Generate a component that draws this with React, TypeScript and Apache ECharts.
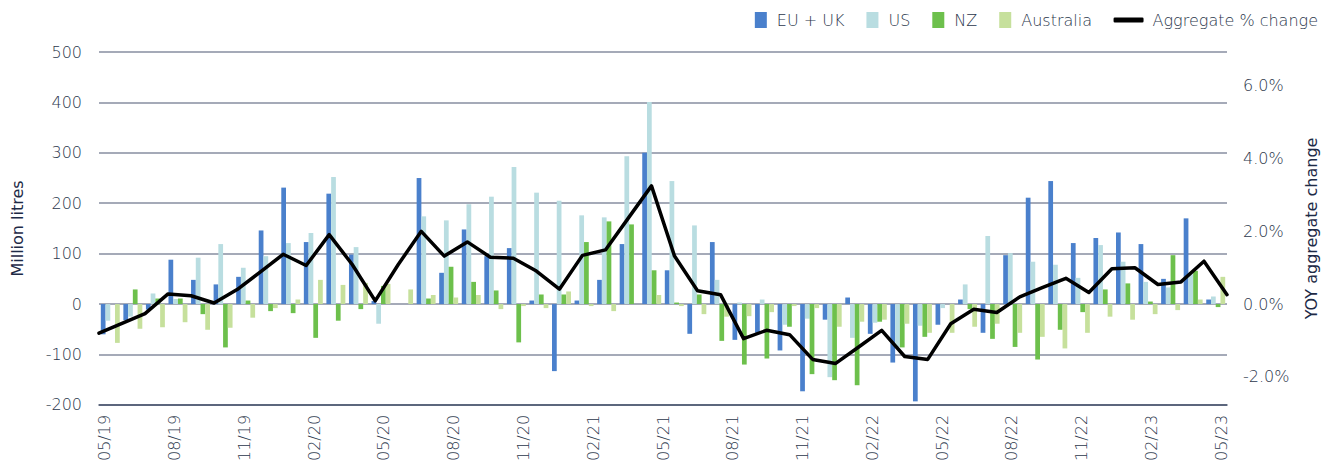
import React, { useEffect, useRef } from "react";
import * as echarts from "echarts";

const months = [
  "05/19", "06/19", "07/19", "08/19", "09/19", "10/19", "11/19", "12/19",
  "01/20", "02/20", "03/20", "04/20", "05/20", "06/20", "07/20", "08/20", "09/20", "10/20", "11/20", "12/20",
  "01/21", "02/21", "03/21", "04/21", "05/21", "06/21", "07/21", "08/21", "09/21", "10/21", "11/21", "12/21",
  "01/22", "02/22", "03/22", "04/22", "05/22", "06/22", "07/22", "08/22", "09/22", "10/22", "11/22", "12/22",
  "01/23", "02/23", "03/23", "04/23", "05/23", "06/23",
];

const tickLabels = [
  "05/19", "08/19", "11/19", "02/20", "05/20", "08/20", "11/20", "02/21", "05/21",
  "08/21", "11/21", "02/22", "05/22", "08/22", "11/22", "02/23", "05/23",
];

const pctTicks = [-2, 0, 2, 4, 6];

const euUk = [
  -60, -32, -11, 88, 48, 39, 54, 146, 231, 123, 219, 98, 6, 0, 250, 62, 148, 95, 111, 7,
  -133, 7, 48, 119, 300, 67, -59, 123, -71, -57, -92, -173, -31, 13, -59, -116, -193, -41, 9, -57,
  97, 211, 244, 121, 131, 142, 119, 50, 170, 9,
];

const us = [
  -33, -25, 21, 10, 92, 119, 72, 95, 121, 141, 252, 113, -39, 0, 174, 166, 198, 213, 272, 221,
  205, 176, 172, 293, 401, 244, 156, 48, 3, 9, -41, -29, -145, -67, -37, -85, -43, -8, 39, 135,
  101, 84, 78, 52, 117, 84, 44, 33, 59, 15,
];

const nz = [
  0, 29, 11, 11, -20, -86, 7, -14, -18, -67, -33, -10, 36, 0, 11, 74, 44, 27, -76, 19,
  19, 123, 164, 158, 67, 3, 19, -73, -120, -108, -45, -139, -151, -161, -35, -86, -65, 0, -10, -69,
  -85, -110, -51, -16, 29, 41, 5, 97, 66, -6,
];

const australia = [
  -77, -49, -46, -36, -51, -47, -27, -8, 9, 48, 38, 42, 40, 29, 18, 13, 18, -10, -4, -8,
  25, -4, -14, 0, 18, -4, -20, -25, -24, -16, -4, -8, -45, -35, -31, -39, -57, -57, -45, -39,
  -57, -65, -88, -57, -25, -31, -20, -12, 9, 54,
];

const aggregatePct = [
  -0.8, -0.53, -0.26, 0.28, 0.23, 0.03, 0.4, 0.88, 1.37, 1.06, 1.91, 1.09, 0.09, 1.09, 2.0, 1.32, 1.71, 1.29, 1.26, 0.91,
  0.41, 1.34, 1.49, 2.37, 3.25, 1.32, 0.37, 0.26, -0.95, -0.72, -0.84, -1.52, -1.63, -1.18, -0.72, -1.44, -1.52, -0.54, -0.14, -0.23,
  0.2, 0.46, 0.71, 0.32, 0.97, 1.0, 0.54, 0.61, 1.18, 0.26,
];

const FONT = "DejaVu Sans";
const TICK_COLOR = "#2c374c";
const NAME_COLOR = "#1e2a46";
const GRID_COLOR = "#878ea0";

export default function App() {
  const ref = useRef<HTMLDivElement>(null);

  useEffect(() => {
    document.body.style.margin = "0";
    if (!ref.current) return;
    const chart = echarts.init(ref.current, undefined, { renderer: "svg" });

    const barSeries = (name: string, data: number[], color: string) => ({
      name,
      type: "bar",
      xAxisIndex: 0,
      yAxisIndex: 0,
      data,
      barGap: "0%",
      barCategoryGap: "16%",
      itemStyle: { color },
      z: 2,
    });

    const legendText = {
      fontFamily: FONT,
      fontSize: 16,
      fontWeight: 300,
      color: TICK_COLOR,
      padding: [0, 0, 0, 5],
    };

    chart.setOption({
      animation: false,
      textStyle: { fontFamily: FONT },
      grid: { left: 99, right: 105, top: 52, bottom: 56, containLabel: false },
      legend: [
        {
          data: ["EU + UK", "US", "NZ", "Australia"],
          right: 240,
          top: 12,
          icon: "rect",
          itemWidth: 12,
          itemHeight: 16,
          itemGap: 22,
          padding: 0,
          textStyle: legendText,
        },
        {
          data: ["Aggregate % change"],
          right: 14,
          top: 12,
          icon: "roundRect",
          itemWidth: 30,
          itemHeight: 5,
          padding: 0,
          textStyle: { ...legendText, padding: [0, 0, 0, 4] },
        },
      ],
      xAxis: [
        {
          type: "category",
          data: months,
          boundaryGap: true,
          show: false,
        },
        {
          type: "category",
          data: months,
          boundaryGap: false,
          show: false,
        },
        {
          type: "value",
          min: -0.25,
          max: 48.25,
          position: "bottom",
          axisLine: { show: true, lineStyle: { color: "#44506a", width: 1.5 } },
          axisTick: { show: false },
          splitLine: { show: false },
          axisLabel: {
            customValues: tickLabels.map((_, i) => i * 3),
            formatter: (v: number) => tickLabels[Math.round(v / 3)] ?? "",
            rotate: 90,
            margin: 10,
            fontFamily: FONT,
            fontSize: 16,
            fontWeight: 300,
            color: TICK_COLOR,
          },
        },
      ],
      yAxis: [
        {
          type: "value",
          min: -200,
          max: 500,
          interval: 100,
          name: "Million litres",
          nameLocation: "middle",
          nameRotate: 90,
          nameGap: 74,
          nameTextStyle: { fontFamily: FONT, fontSize: 16, color: NAME_COLOR },
          axisLine: { show: false },
          axisTick: { show: false },
          splitLine: { show: true, lineStyle: { color: GRID_COLOR, width: 1.5 } },
          axisLabel: { margin: 17, fontFamily: FONT, fontSize: 16, fontWeight: 300, color: TICK_COLOR },
        },
        {
          type: "value",
          min: -2.77,
          max: 6.93,
          position: "right",
          name: "YOY aggregate change",
          nameLocation: "middle",
          nameRotate: 90,
          nameGap: 76,
          nameTextStyle: { fontFamily: FONT, fontSize: 16, color: NAME_COLOR },
          axisLine: { show: false },
          axisTick: { show: false },
          splitLine: { show: false },
          axisLabel: {
            customValues: pctTicks,
            margin: 16,
            fontFamily: FONT,
            fontSize: 16,
            fontWeight: 300,
            color: TICK_COLOR,
            formatter: (v: number) => `${v.toFixed(1)}%`,
          },
        },
      ],
      series: [
        barSeries("EU + UK", euUk, "#4a80cc"),
        barSeries("US", us, "#b9dde1"),
        barSeries("NZ", nz, "#6dc04c"),
        barSeries("Australia", australia, "#c6e09c"),
        {
          name: "Aggregate % change",
          type: "line",
          xAxisIndex: 1,
          yAxisIndex: 1,
          data: aggregatePct,
          symbol: "none",
          itemStyle: { color: "#000000" },
          lineStyle: { color: "#000000", width: 3.5, join: "round", cap: "round" },
          z: 5,
        },
      ],
    });

    return () => chart.dispose();
  }, []);

  return <div ref={ref} style={{ width: 1332, height: 464 }} />;
}
